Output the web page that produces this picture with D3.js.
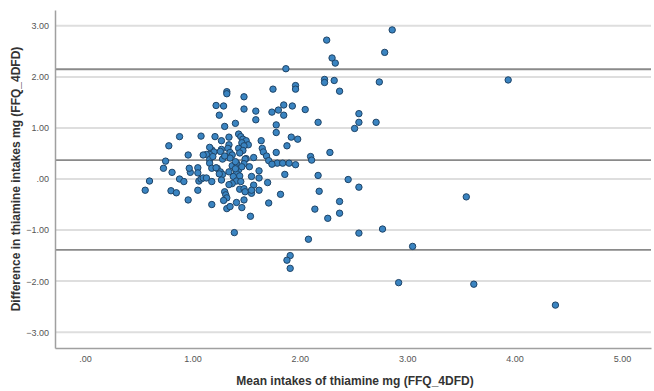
<!DOCTYPE html>
<html>
<head>
<meta charset="utf-8">
<script src="https://cdn.jsdelivr.net/npm/d3@7"></script>
<style>
  html, body { margin: 0; padding: 0; background: #fff; }
  svg { display: block; font-family: "Liberation Sans", Arial, sans-serif; }
</style>
</head>
<body>
<svg id="chart" width="654" height="391"></svg>
<script>
// Mean intake (x) and difference (y) for each subject
const meanIntake = [
  2.86,2.25,2.79,2.30,2.33,1.87,2.23,2.23,2.32,2.74,2.37,1.32,1.32,1.48,1.75,1.96,1.96,1.22,1.29,1.25,
  1.48,1.59,1.59,1.74,1.80,1.85,1.85,1.93,2.05,2.55,2.55,2.71,2.51,2.17,1.30,1.40,1.78,1.78,3.94,
  0.88,1.08,1.21,1.27,1.34,1.43,1.45,1.47,1.50,1.52,1.46,1.48,1.64,1.92,1.98,1.88,0.78,2.28,1.34,1.33,
  1.35,1.37,1.27,1.26,1.18,1.20,1.16,1.13,1.10,0.96,1.43,1.47,1.44,1.57,1.50,1.65,1.66,1.69,1.78,2.10,
  2.11,1.71,1.79,1.84,1.90,1.96,0.75,0.73,0.81,0.98,0.97,1.05,1.16,1.19,1.28,1.35,1.37,1.41,1.49,1.48,
  1.53,1.74,1.16,1.18,1.23,1.26,1.28,1.62,1.43,1.41,1.86,2.17,2.45,0.88,0.92,1.06,1.08,1.10,1.13,1.38,
  1.44,1.41,1.45,1.37,1.34,1.57,1.70,0.60,0.56,0.80,0.85,1.05,0.96,1.18,1.30,1.31,1.32,1.29,1.32,1.35,
  1.41,1.46,1.44,1.48,1.49,1.48,1.55,1.55,1.62,1.71,1.82,2.18,2.37,2.14,2.37,2.26,1.54,1.39,2.08,2.77,
  2.55,3.05,1.91,1.88,1.91,2.92,3.62,4.38,3.55,2.55,
  1.22,1.25,1.40,1.16,1.30,1.55,1.05,1.62,1.34,1.27,1.46,1.40,1.18
];
const difference = [
  2.92,2.72,2.48,2.37,2.27,2.16,1.95,1.89,1.93,1.90,1.72,1.71,1.67,1.61,1.76,1.83,1.76,1.44,1.43,1.25,
  1.37,1.33,1.16,1.31,1.35,1.45,1.25,1.43,1.36,1.28,1.11,1.11,0.99,1.11,1.03,1.09,1.06,0.91,1.94,
  0.83,0.84,0.83,0.75,0.82,0.88,0.83,0.78,0.75,0.67,0.71,0.65,0.75,0.82,0.78,0.65,0.65,0.52,0.67,0.60,
  0.52,0.47,0.58,0.54,0.57,0.53,0.48,0.48,0.47,0.47,0.60,0.56,0.51,0.42,0.40,0.60,0.53,0.45,0.52,0.44,
  0.37,0.36,0.31,0.31,0.31,0.28,0.35,0.21,0.13,0.13,0.21,0.22,0.38,0.44,0.39,0.41,0.26,0.31,0.39,0.30,
  0.24,0.29,0.31,0.21,0.21,0.14,0.09,0.16,0.18,0.11,0.09,0.07,-0.01,0.00,-0.05,-0.04,0.00,0.02,0.02,0.05,
  0.06,-0.04,-0.05,-0.09,-0.11,-0.12,-0.07,-0.04,-0.22,-0.23,-0.27,-0.22,-0.41,-0.50,-0.25,-0.31,-0.37,-0.42,-0.58,-0.54,
  -0.46,-0.56,-0.20,-0.19,-0.25,-0.41,-0.28,-0.22,-0.22,-0.47,-0.30,-0.24,-0.44,-0.59,-0.67,-0.77,-0.73,-1.05,-1.18,-0.98,
  -1.06,-1.32,-1.50,-1.59,-1.75,-2.03,-2.06,-2.47,-0.35,-0.16,
  0.22,0.10,0.20,0.62,0.45,0.05,0.12,0.02,0.14,-0.02,0.24,0.34,-0.05
];
// Bland-Altman reference lines: upper limit, mean difference, lower limit
const refLines = [2.15, 0.37, -1.39];
const yTicks = [3, 2, 1, 0, -1, -2, -3];
const xTicks = [0, 1, 2, 3, 4, 5];
const xTitle = "Mean intakes of thiamine mg (FFQ_4DFD)";
const yTitle = "Difference in thiamine intakes mg (FFQ_4DFD)";

(function () {
  const fmt = v => { const s = d3.format(".2f")(v); return s.replace(/^(-?)0\./, "$1."); };

  const svg = d3.select("#chart");
  const L = 55, R = 651, T = 10, B = 348;

  const x = d3.scaleLinear().domain([-0.28, 5.27]).range([L, R]);
  const y = d3.scaleLinear().domain([-3.31, 3.31]).range([B, T]);

  // gridlines
  svg.append("g").selectAll("line").data(yTicks).join("line")
    .attr("x1", L).attr("x2", R)
    .attr("y1", d => y(d)).attr("y2", d => y(d))
    .attr("stroke", "#dedede").attr("stroke-width", 2);

  // reference lines
  svg.append("g").selectAll("line").data(refLines).join("line")
    .attr("x1", L).attr("x2", R)
    .attr("y1", d => y(d)).attr("y2", d => y(d))
    .attr("stroke", "#8a8a8a").attr("stroke-width", 1.8);

  // axes
  const yAxis = svg.append("g").attr("transform", `translate(${L},0)`)
    .call(d3.axisLeft(y).tickValues(yTicks).tickFormat(fmt).tickSize(0).tickPadding(6));
  const xAxis = svg.append("g").attr("transform", `translate(0,${B})`)
    .call(d3.axisBottom(x).tickValues(xTicks).tickFormat(fmt).tickSize(0).tickPadding(8));
  [yAxis, xAxis].forEach(g => {
    g.select(".domain").attr("stroke", "#a0a0a0").attr("stroke-width", 1.5);
    g.selectAll("text").attr("fill", "#555").attr("font-size", 9)
      .attr("font-family", "'Liberation Sans', Arial, sans-serif");
  });

  // points
  const pts = meanIntake.map((m, i) => ({ m, d: difference[i] }));
  svg.append("g").selectAll("circle").data(pts).join("circle")
    .attr("cx", p => x(p.m)).attr("cy", p => y(p.d)).attr("r", 3.2)
    .attr("fill", "#3a84c1").attr("stroke", "#1f4467").attr("stroke-width", 1);

  // titles
  svg.append("text").attr("x", 355).attr("y", 385).attr("text-anchor", "middle")
    .attr("font-size", 12).attr("font-weight", "bold").attr("fill", "#333")
    .text(xTitle);
  svg.append("text").attr("transform", `translate(20,${(T + B) / 2}) rotate(-90)`)
    .attr("text-anchor", "middle")
    .attr("font-size", 12).attr("font-weight", "bold").attr("fill", "#333")
    .text(yTitle);
})();
</script>
</body>
</html>
